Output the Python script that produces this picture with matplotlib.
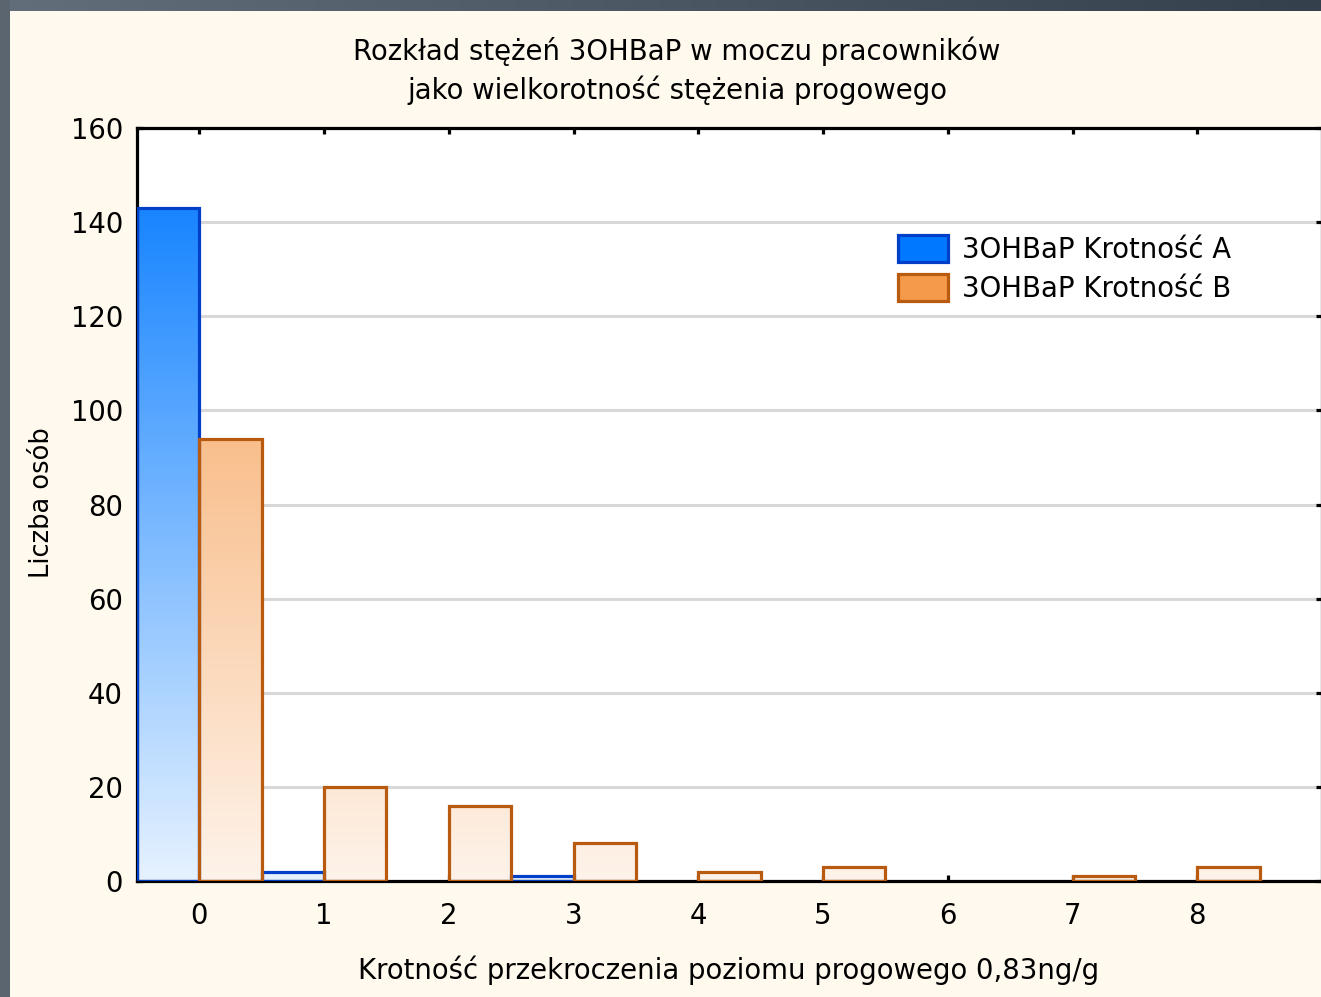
import numpy as np
import matplotlib
matplotlib.use("Agg")
import matplotlib.pyplot as plt
from matplotlib.colors import LinearSegmentedColormap
from matplotlib.patches import Patch, Rectangle

# ---- data ----
categories = [0, 1, 2, 3, 4, 5, 6, 7, 8]
series_a = [143, 2, 0, 1, 0, 0, 0, 0, 0]      # 3OHBaP Krotność A
series_b = [94, 20, 16, 8, 2, 3, 0, 1, 3]     # 3OHBaP Krotność B
y_ticks = [0, 20, 40, 60, 80, 100, 120, 140, 160]
label_a = "3OHBaP Krotność A"
label_b = "3OHBaP Krotność B"
title_lines = ["Rozkład stężeń 3OHBaP w moczu pracowników",
               "jako wielkorotność stężenia progowego"]
x_label = "Krotność przekroczenia poziomu progowego 0,83ng/g"
y_label = "Liczba osób"

# ---- styling ----
W, H = 1321, 997
FS = 19.8
LW = 2.3
cream = "#FFF9EE"
blue_full, blue_pale, blue_edge = "#0078FF", "#E6F2FF", "#0040C8"
orange_full, orange_pale, orange_edge = "#F59A4A", "#FEF3EA", "#B85A10"

plt.rcParams['font.family'] = ['DejaVu Sans']

fig = plt.figure(figsize=(W / 100, H / 100), dpi=100)
fig.patch.set_facecolor(cream)

# dark frame strips (left and top)
fig.patches.append(Rectangle((0, 0), 10 / W, 1, transform=fig.transFigure,
                             facecolor="#5A6570", edgecolor="none", zorder=0))
top = fig.add_axes([0, 1 - 11 / H, 1, 11 / H])
top.imshow(np.linspace(0, 1, 256).reshape(1, -1), aspect="auto",
           cmap=LinearSegmentedColormap.from_list("frame", ["#626E7A", "#34414D"]),
           extent=[0, 1, 0, 1])
top.set_axis_off()

ax = fig.add_axes([137 / W, 1 - 881 / H, (1322 - 137) / W, (881 - 128) / H])
ax.set_facecolor("white")
ax.set_xlim(-0.5, 9.0)
ax.set_ylim(0, 160)
ax.set_yticks(y_ticks)
ax.set_xticks(categories)
ax.yaxis.grid(True, color="#D8D8D8", linewidth=2.2)
ax.set_axisbelow(True)
for s in ax.spines.values():
    s.set_linewidth(LW)
    s.set_color("black")
ax.tick_params(direction="in", length=4.5, width=LW, top=True, right=True,
               labelsize=FS, colors="black")
ax.tick_params(axis="y", pad=10)
ax.tick_params(axis="x", pad=15)

grad = np.linspace(0, 1, 256).reshape(-1, 1)
cmap_a = LinearSegmentedColormap.from_list("a", [blue_pale, blue_full])
cmap_b = LinearSegmentedColormap.from_list("b", [orange_pale, orange_full])


def draw_series(values, offset, cmap, edge):
    for xi, v in zip(categories, values):
        if v <= 0:
            continue
        bars = ax.bar(xi + offset, v, width=0.5, facecolor="none",
                      edgecolor=edge, linewidth=LW, zorder=3)
        patch = bars.patches[0]
        x0 = patch.get_x()
        im = ax.imshow(grad, origin="lower", aspect="auto", cmap=cmap,
                       extent=[x0, x0 + patch.get_width(), 0, 160], zorder=2)
        im.set_clip_path(patch)


draw_series(series_a, -0.25, cmap_a, blue_edge)
draw_series(series_b, 0.25, cmap_b, orange_edge)
ax.set_xlim(-0.5, 9.0)
ax.set_ylim(0, 160)

handles = [Patch(facecolor=blue_full, edgecolor=blue_edge, linewidth=LW, label=label_a),
           Patch(facecolor=orange_full, edgecolor=orange_edge, linewidth=LW, label=label_b)]
ax.legend(handles=handles, loc="upper left", frameon=False, fontsize=FS,
          bbox_to_anchor=(898 / W, 1 - 235 / H), bbox_transform=fig.transFigure,
          borderpad=0, borderaxespad=0, handlelength=1.82, handleheight=1.16,
          handletextpad=0.5, labelspacing=0.36)

fig.text(677 / W, 1 - 51 / H, title_lines[0], ha="center", va="center", fontsize=FS)
fig.text(677 / W, 1 - 90 / H, title_lines[1], ha="center", va="center", fontsize=FS)
fig.text(729 / W, 1 - 970 / H, x_label, ha="center", va="center", fontsize=FS)
fig.text(42 / W, 1 - 503 / H, y_label, ha="center", va="center", rotation=90, fontsize=18.5)

fig.savefig("out.png", dpi=100, facecolor=cream)
